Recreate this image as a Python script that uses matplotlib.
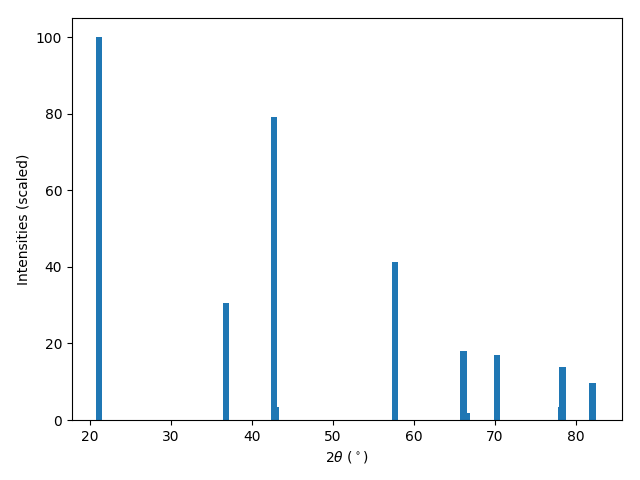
import matplotlib
matplotlib.use("Agg")
import matplotlib.pyplot as plt

# peak positions (2theta, degrees) and scaled intensities
two_theta = [21.08, 36.75, 42.70, 42.88, 57.68, 66.10, 66.47, 70.27, 78.14, 78.36, 82.02]
intensity = [100.0, 30.6, 79.2, 3.5, 41.3, 18.0, 1.9, 17.0, 3.4, 13.9, 9.7]

fig = plt.figure(figsize=(6.4, 4.8), dpi=100)
plt.bar(two_theta, intensity)
plt.xlabel(r"2$\theta$ ($^\circ$)")
plt.ylabel("Intensities (scaled)")
plt.xlim(17.75, 85.7)
plt.subplots_adjust(left=0.1125, right=0.972, top=0.9625, bottom=0.125)
plt.savefig("out.png")
